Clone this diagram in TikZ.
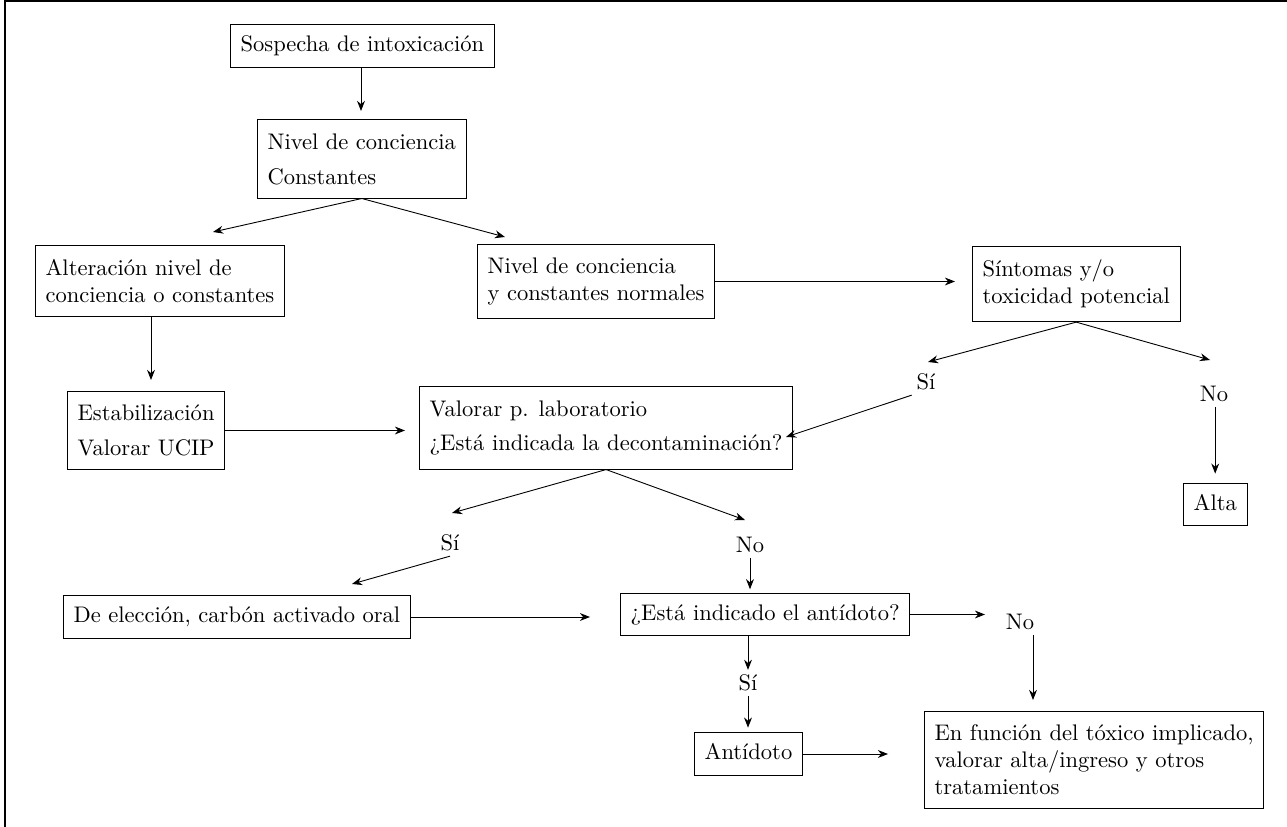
\documentclass[tikz,border=0pt]{standalone}
\usepackage{fontspec}
\usetikzlibrary{arrows.meta}
\begin{document}
\begin{tikzpicture}[x=0.0156cm,y=-0.0156cm,
  box/.style={draw,anchor=west,inner xsep=4.5pt,inner ysep=6pt,align=left,font=\fontsize{10}{12}\selectfont},
  one/.style={inner ysep=4.5pt,text height=7.5pt,text depth=2.5pt},
  lbl/.style={inner sep=2pt,font=\fontsize{10}{12}\selectfont},
  arr/.style={-{Stealth[length=4.5pt,width=3.5pt]}}]
\useasboundingbox (0,0) rectangle (1287,827);
\draw[line width=0.8pt] (5,827) -- (5,1) -- (1287,1);

% boxes
\node[box,one] (sospecha) at (230,46) {Sospecha de intoxicación};
\node[box] (nivel) at (257,159) {Nivel de conciencia\\[3.5pt]Constantes};
\node[box] (alter) at (35,281) {Alteración nivel de\\conciencia o constantes};
\node[box] (normal) at (477,281.5) {Nivel de conciencia\\y constantes normales};
\node[box] (sintomas) at (972,284) {Síntomas y/o\\toxicidad potencial};
\node[box] (estab) at (67,430.5) {Estabilización\\[3.5pt]Valorar UCIP};
\node[box] (valorar) at (419,428) {Valorar p. laboratorio\\[3.5pt]¿Está indicada la decontaminación?};
\node[box,one] (alta) at (1183,504.5) {Alta};
\node[box,one] (carbon) at (63,617) {De elección, carbón activado oral};
\node[box,one] (antq) at (620,614.5) {¿Está indicado el antídoto?};
\node[box,one] (antidoto) at (694,754) {Antídoto};
\node[box] (funcion) at (924,760) {En función del tóxico implicado,\\valorar alta/ingreso y otros\\tratamientos};

% si / no
\node[lbl] (si1) at (926,382) {Sí};
\node[lbl] (no1) at (1214,394) {No};
\node[lbl] (si2) at (450,543) {Sí};
\node[lbl] (no2) at (750,545) {No};
\node[lbl] (si3) at (748,683) {Sí};
\node[lbl] (no3) at (1020,622) {No};

% free ends
\coordinate (c1) at (361,111);
\coordinate (c2) at (213,232);
\coordinate (c3) at (505,237);
\coordinate (c4) at (151,380);
\coordinate (c5) at (405,431);
\coordinate (c6) at (955,282);
\coordinate (c7) at (928,362);
\coordinate (c8) at (786,437);
\coordinate (c9) at (1210,360);
\coordinate (c10) at (452,513);
\coordinate (c11) at (352,584);
\coordinate (c12) at (745,520);
\coordinate (c13) at (590,616);
\coordinate (c14) at (985,616);
\coordinate (c15) at (1033,700);
\coordinate (c16) at (888,754);

\draw[arr] (c1 |- sospecha.south) -- (c1);
\draw[arr] (nivel.south) -- (c2);
\draw[arr] (nivel.south) -- (c3);
\draw[arr] (c4 |- alter.south) -- (c4);
\draw[arr] (estab.east) -- (estab.east -| c5);
\draw[arr] (normal.east) -- (normal.east -| c6);
\draw[arr] (sintomas.south) -- (c7);
\draw[arr] (si1.south west) -- (c8);
\draw[arr] (sintomas.south) -- (c9);
\draw[arr,shorten >=4pt] (alta.north |- no1.south) -- (alta.north);
\draw[arr] (valorar.south) -- (c10);
\draw[arr] (si2.south) -- (c11);
\draw[arr] (valorar.south) -- (c12);
\draw[arr,shorten >=1.5pt] (no2.south) -- (no2.south |- antq.north);
\draw[arr] (carbon.east) -- (carbon.east -| c13);
\draw[arr] (antq.east) -- (antq.east -| c14);
\draw[arr] (c15 |- no3.south) -- (c15);
\draw[arr] (si3 |- antq.south) -- (si3);
\draw[arr,shorten >=2pt] (si3.south) -- (si3.south |- antidoto.north);
\draw[arr] (antidoto.east) -- (antidoto.east -| c16);
\end{tikzpicture}
\end{document}
